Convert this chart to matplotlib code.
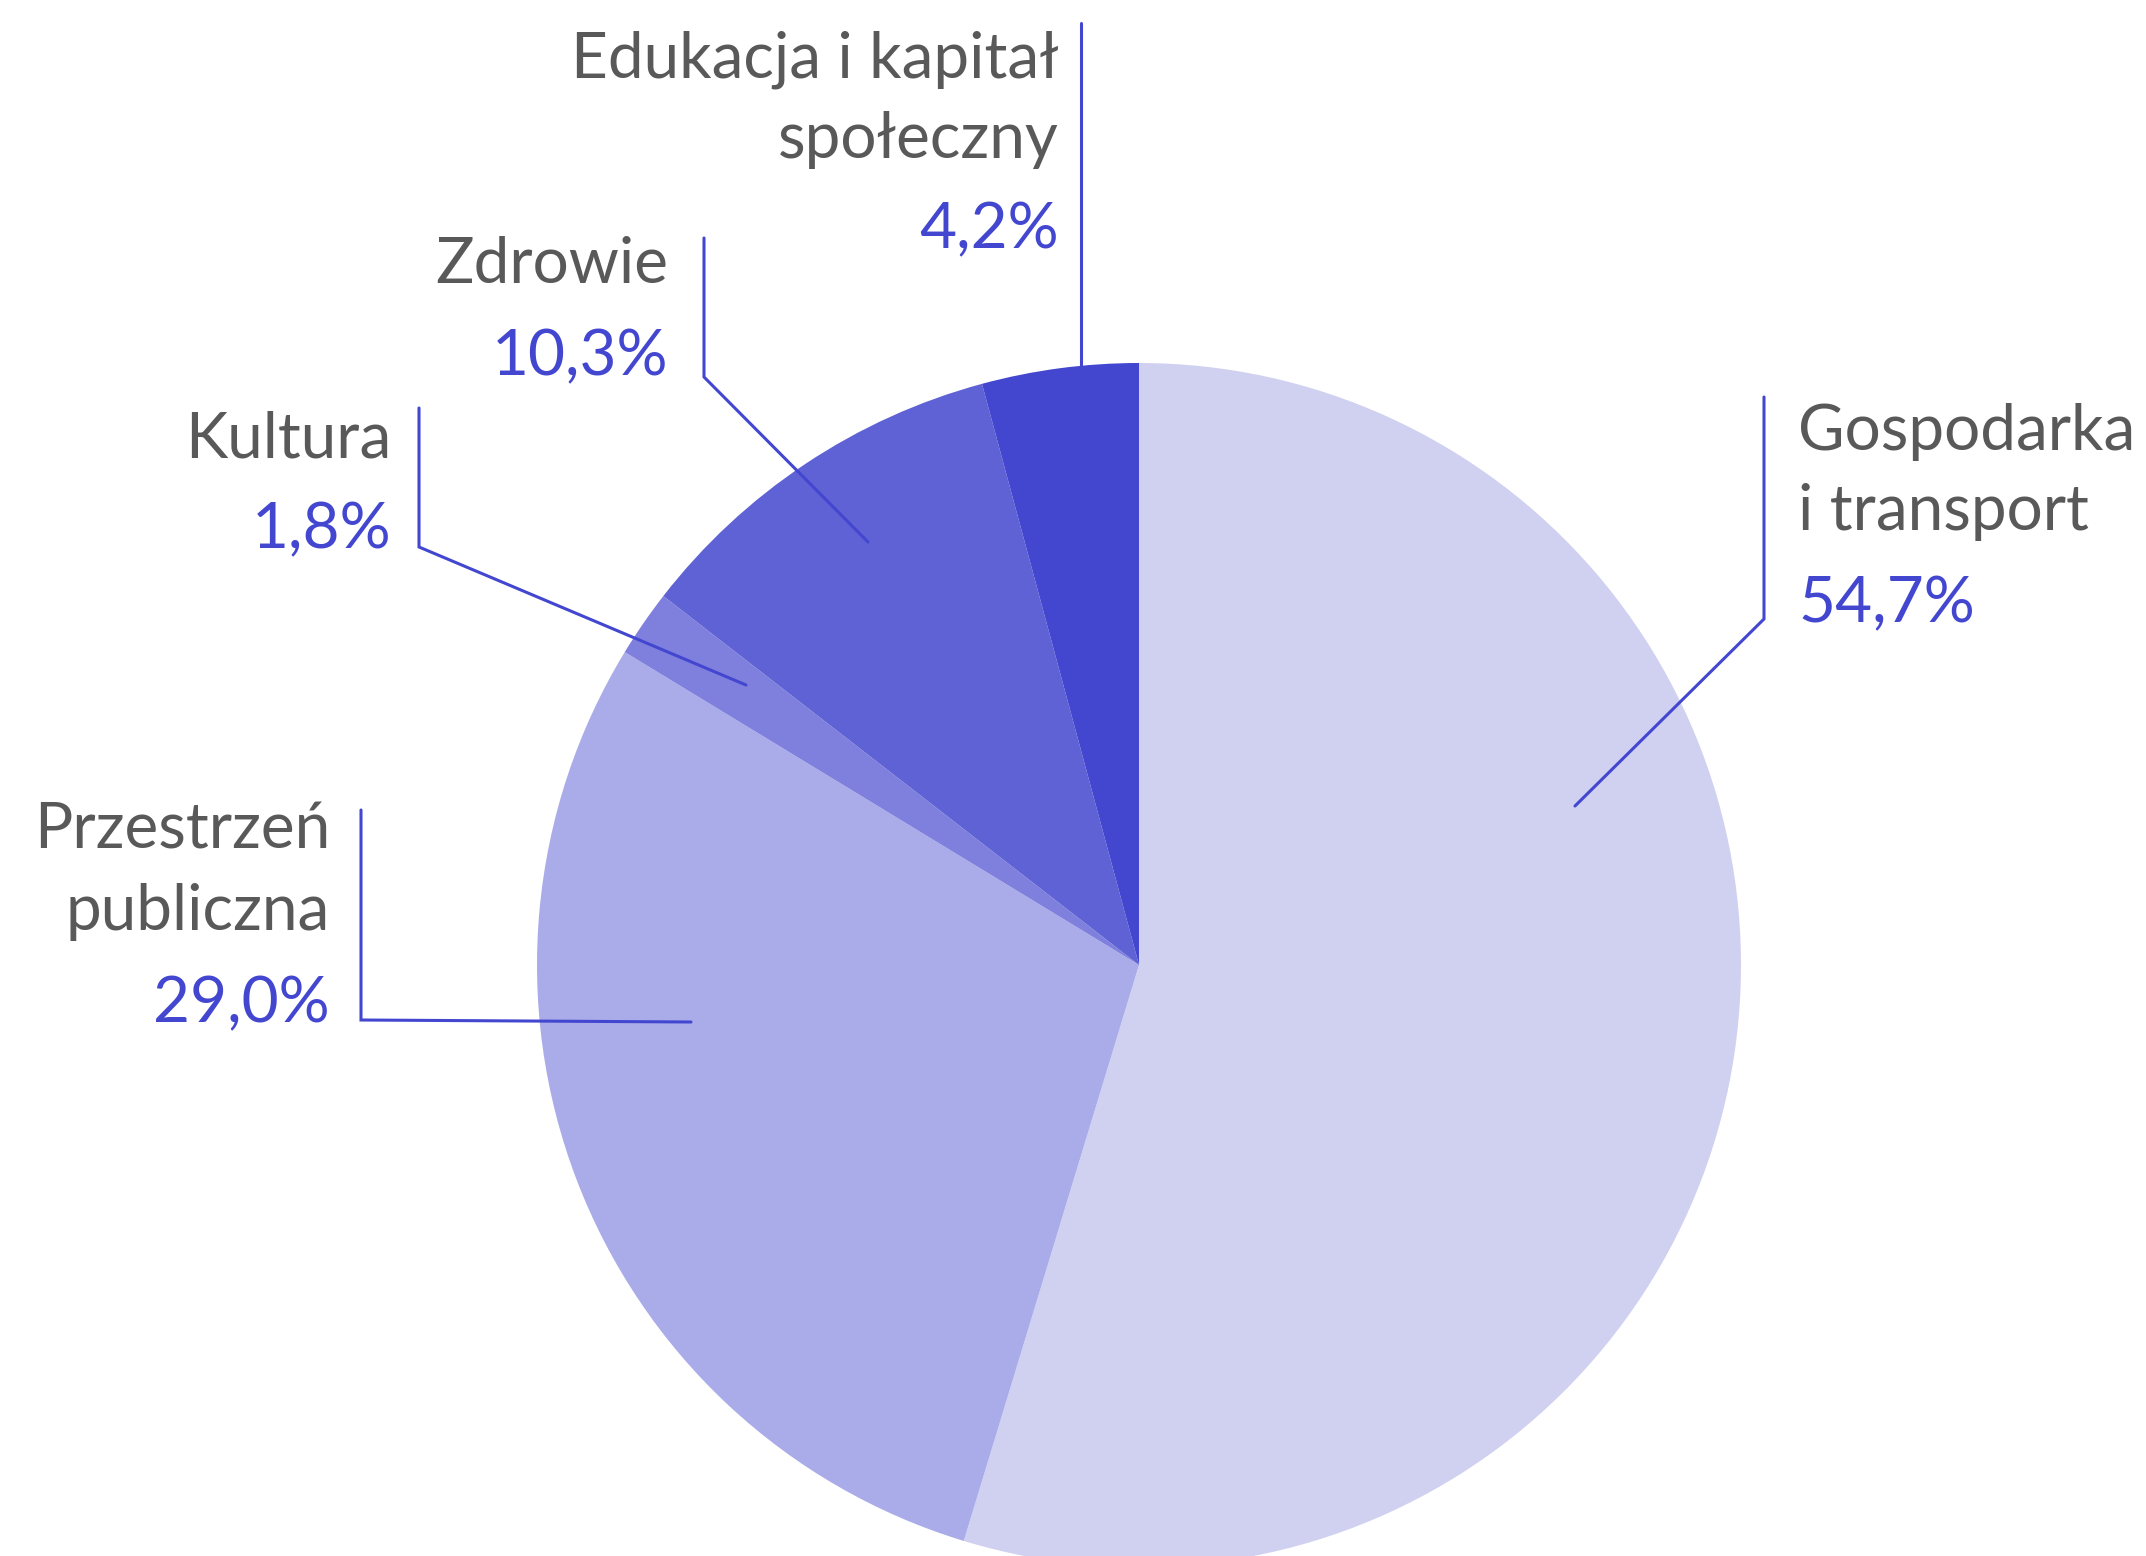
import matplotlib
matplotlib.use("Agg")
import matplotlib.pyplot as plt

# dane
categories = ["Gospodarka\ni transport", "Przestrzeń\npubliczna", "Kultura", "Zdrowie", "Edukacja i kapitał\nspołeczny"]
values = [54.7, 29.0, 1.8, 10.3, 4.2]
pct_labels = ["54,7%", "29,0%", "1,8%", "10,3%", "4,2%"]
colors = ["#D0D0F1", "#AAACE9", "#7F80DD", "#5F62D4", "#4346CF"]

W, H = 2146, 1556
TXT = "#595959"
ACC = "#4347D0"

plt.rcParams['font.family'] = ['Lato', 'DejaVu Sans']

fig = plt.figure(figsize=(W / 100, H / 100), dpi=100)
ax = fig.add_axes([0, 0, 1, 1])
ax.set_xlim(0, W)
ax.set_ylim(0, H)
ax.set_aspect("equal")
ax.axis("off")

cx, cy, r = 1139, H - 965, 602
ax.pie(values, colors=colors, startangle=90, counterclock=False,
       center=(cx, cy), radius=r, wedgeprops=dict(linewidth=0))
ax.set_xlim(0, W)
ax.set_ylim(0, H)

# uklad etykiet: (x tekstu, wyrownanie, linie bazowe, punkty linii odniesienia) w pikselach od gory
layout = [
    (1798, "left", [450, 530, 622], [(1764, 397), (1764, 619), (1575, 806)]),
    (330, "right", [848, 930, 1022], [(361, 810), (361, 1020), (691, 1022)]),
    (391, "right", [457, 548], [(419, 408), (419, 547), (746, 685)]),
    (668, "right", [283, 375], [(704, 238), (704, 377), (868, 542)]),
    (1059, "right", [77, 158, 248], [(1081, 23), (1081, 366)]),
]

fs = 46
for cat, pct, (tx, ha, bases, pts) in zip(categories, pct_labels, layout):
    lines = cat.split("\n")
    for line, b in zip(lines, bases[:-1]):
        ax.text(tx, H - b, line, ha=ha, va="baseline", fontsize=fs, color=TXT)
    ax.text(tx, H - bases[-1], pct, ha=ha, va="baseline", fontsize=fs, color=ACC)
    xs = [p[0] for p in pts]
    ys = [H - p[1] for p in pts]
    ax.plot(xs, ys, color=ACC, linewidth=2.2, solid_capstyle="round", solid_joinstyle="miter")

fig.savefig("out.png", dpi=100)
